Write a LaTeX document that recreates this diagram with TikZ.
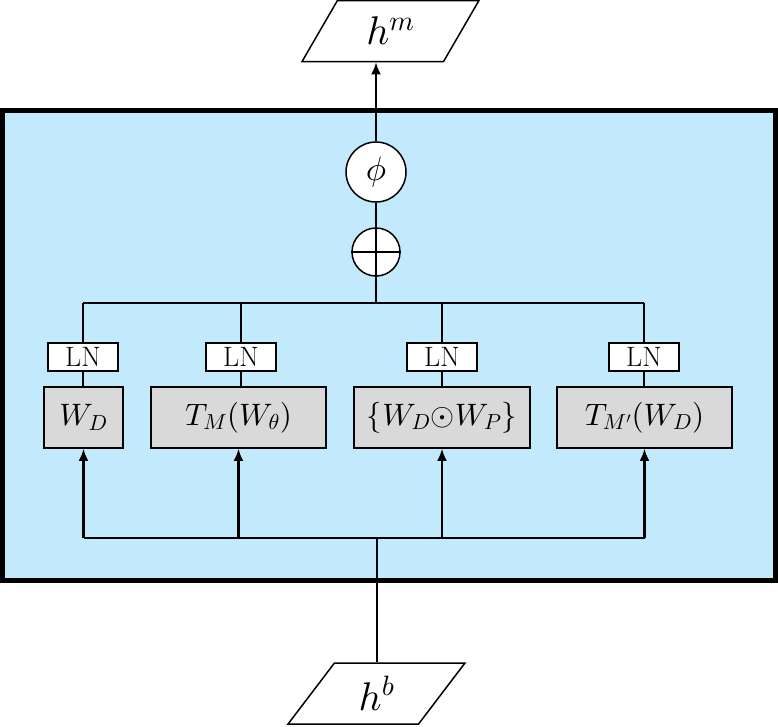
\documentclass[tikz,border=0pt]{standalone}
\usetikzlibrary{shapes.geometric,arrows.meta}
\DeclareFontShape{OML}{cmm}{m}{it}{<->cmmi10}{}
\DeclareFontShape{OMS}{cmsy}{m}{n}{<->cmsy10}{}
\DeclareFontShape{OT1}{cmr}{m}{n}{<->cmr10}{}
\definecolor{panelblue}{RGB}{194,233,252}
\definecolor{boxgray}{RGB}{217,217,217}

\begin{document}
\begin{tikzpicture}[x=1pt, y=-1pt,
  wire/.style={line width=2.5pt},
  tip/.style={-{Latex[length=12pt,width=10pt]}},
  io/.style={trapezium, trapezium left angle=60, trapezium right angle=120,
    trapezium stretches=true, draw, line width=1.5pt, fill=white,
    minimum width=178pt, minimum height=61pt, inner sep=0pt,
    font=\fontsize{40}{44}\selectfont},
  op/.style={circle, draw, line width=1.5pt, fill=white, inner sep=0pt},
  ln/.style={draw, line width=1.2pt, fill=white, minimum width=70pt,
    minimum height=28pt, inner sep=0pt, font=\fontsize{28}{30}\selectfont},
  mat/.style={draw, line width=1.5pt, fill=boxgray, minimum height=61pt,
    inner sep=0pt, font=\fontsize{31}{34}\selectfont}]
  \useasboundingbox (0,0) rectangle (778,726);
  \draw[line width=5pt, fill=panelblue] (2.5,110.5) rectangle (775.5,580.5);

  \node[io] (hm) at (390.5,31) {$h^m$};
  \node[io] (hb) at (376.5,693.5) {$h^b$};

  \node[op, minimum size=60pt, font=\fontsize{34}{36}\selectfont] (phi) at (376,172) {$\phi$};
  \node[op, minimum size=48pt] (plus) at (376,252) {};
  \draw[line width=1.5pt] (plus.north) -- (plus.south) (plus.west) -- (plus.east);

  \coordinate (top) at (376,303);
  \coordinate (bot) at (377,538);

  \foreach \n/\x in {1/83,2/241,3/442,4/644}
    \node[ln] (ln\n) at (\x,357) {LN};

  \node[mat, minimum width=79pt] (m1) at (83.5,417.5) {$W_D$};
  \node[mat, minimum width=175pt] (m2) at (238.5,417.5) {$T_M(W_\theta)$};
  \node[mat, minimum width=176pt] (m3) at (442,417.5) {$\{W_D{\odot}W_P\}$};
  \node[mat, minimum width=175pt] (m4) at (644.5,417.5) {$T_{M'}(W_D)$};

  \draw[wire, tip] (phi.north) -- (phi |- hm.south);
  \draw[wire] (plus.north) -- (phi.south);
  \draw[wire] (plus.south) -- (top);
  \draw[wire] (ln1.north |- top) -- (ln4.north |- top);
  \draw[wire] (m1.south |- bot) -- (m4.south |- bot);
  \foreach \n in {1,...,4} {
    \draw[wire] (ln\n.north |- top) -- (ln\n.north);
    \draw[wire] (ln\n.south) -- (ln\n.south |- m\n.north);
    \draw[wire, tip] (m\n.south |- bot) -- (m\n.south);
  }
  \draw[wire] (bot) -- (bot |- hb.north);
\end{tikzpicture}
\end{document}
